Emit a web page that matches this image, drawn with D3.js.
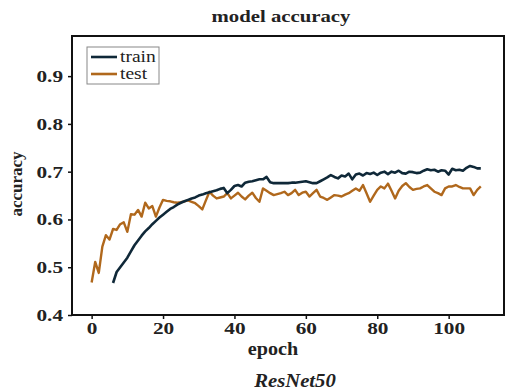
<!DOCTYPE html>
<html>
<head>
<meta charset="utf-8">
<script src="https://cdn.jsdelivr.net/npm/d3@7"></script>
<style>
  body { margin: 0; background: #fff; }
</style>
</head>
<body>
<div id="graphicContainer"></div>
<script>
var testStart = 0
var testAcc = [
  0.468, 0.511, 0.488, 0.543, 0.567, 0.558, 0.580, 0.578, 0.590, 0.594,
  0.574, 0.611, 0.610, 0.620, 0.606, 0.635, 0.623, 0.628, 0.606, 0.625,
  0.641, 0.639, 0.638, 0.636, 0.635, 0.636, 0.638, 0.640, 0.637, 0.634,
  0.628, 0.621, 0.640, 0.658, 0.650, 0.644, 0.646, 0.648, 0.655, 0.644,
  0.650, 0.656, 0.648, 0.642, 0.650, 0.656, 0.645, 0.637, 0.665, 0.660,
  0.655, 0.651, 0.653, 0.655, 0.658, 0.651, 0.655, 0.662, 0.651, 0.656,
  0.658, 0.648, 0.655, 0.662, 0.648, 0.645, 0.641, 0.646, 0.651, 0.650,
  0.648, 0.652, 0.655, 0.660, 0.665, 0.660, 0.672, 0.655, 0.637, 0.650,
  0.662, 0.669, 0.665, 0.675, 0.660, 0.644, 0.660, 0.670, 0.676, 0.668,
  0.662, 0.664, 0.665, 0.669, 0.672, 0.665, 0.658, 0.655, 0.651, 0.665,
  0.669, 0.669, 0.672, 0.668, 0.665, 0.665, 0.665, 0.651, 0.662, 0.669
]

var trainStart = 6
var trainAcc = [
  0.467, 0.490, 0.500, 0.510, 0.520, 0.533, 0.546, 0.556, 0.566, 0.575,
  0.582, 0.590, 0.597, 0.604, 0.610, 0.616, 0.622, 0.626, 0.631, 0.635,
  0.638, 0.641, 0.644, 0.646, 0.650, 0.652, 0.655, 0.657, 0.659, 0.661,
  0.664, 0.666, 0.655, 0.662, 0.670, 0.672, 0.669, 0.677, 0.679, 0.680,
  0.682, 0.684, 0.684, 0.689, 0.678, 0.676, 0.676, 0.676, 0.676, 0.676,
  0.677, 0.677, 0.678, 0.679, 0.680, 0.678, 0.676, 0.676, 0.680, 0.684,
  0.688, 0.693, 0.689, 0.686, 0.692, 0.690, 0.696, 0.684, 0.694, 0.696,
  0.692, 0.697, 0.695, 0.698, 0.693, 0.698, 0.700, 0.695, 0.700, 0.698,
  0.702, 0.697, 0.696, 0.700, 0.699, 0.697, 0.698, 0.702, 0.705, 0.703,
  0.704, 0.700, 0.703, 0.702, 0.694, 0.706, 0.703, 0.704, 0.702, 0.708,
  0.712, 0.710, 0.707, 0.707
]

var xTicks = [0, 20, 40, 60, 80, 100]
var yTicks = [0.4, 0.5, 0.6, 0.7, 0.8, 0.9]

var seriesNames = ["train", "test"]
var seriesColors = ["#0f2838", "#b0681c"]

var serif = '"Liberation Serif", "Times New Roman", "DejaVu Serif", serif'

var w = 506, h = 392
var margin = {top: 36, right: 2, bottom: 77, left: 72},
    width = w - margin.left - margin.right,
    height = h - margin.top - margin.bottom

var x = d3.scaleLinear().domain([-5.5, 115.5]).range([0, width])
var y = d3.scaleLinear().domain([0.4, 0.984]).range([height, 0])

var svg = d3.select("#graphicContainer").append("svg")
    .attr("width", w)
    .attr("height", h)

// the picture is a bit wider than tall, so the letters are stretched sideways
function stretch(sel, k) {
  sel.each(function() {
    var len = this.getComputedTextLength()
    d3.select(this)
      .attr("textLength", len * k)
      .attr("lengthAdjust", "spacingAndGlyphs")
  })
}

var g = svg.append("g")
    .attr("transform", "translate(" + margin.left + "," + margin.top + ")")

var valueline = d3.line()
    .x(function(d) { return x(d.epoch) })
    .y(function(d) { return y(d.acc) })

var train = trainAcc.map(function(v, i) { return {epoch: trainStart + i, acc: v} })
var test = testAcc.map(function(v, i) { return {epoch: testStart + i, acc: v} })

g.append("path")
  .datum(test)
  .attr("fill", "none")
  .attr("stroke", seriesColors[1])
  .attr("stroke-width", 2.4)
  .attr("stroke-linejoin", "round")
  .attr("d", valueline)

g.append("path")
  .datum(train)
  .attr("fill", "none")
  .attr("stroke", seriesColors[0])
  .attr("stroke-width", 2.6)
  .attr("stroke-linejoin", "round")
  .attr("d", valueline)

// axes
var xAxis = d3.axisBottom(x).tickValues(xTicks).tickSize(4).tickPadding(3)
var yAxis = d3.axisLeft(y).tickValues(yTicks).tickSize(4).tickPadding(5)
    .tickFormat(d3.format(".1f"))

var gx = g.append("g")
  .attr("transform", "translate(0," + height + ")")
  .call(xAxis)
var gy = g.append("g").call(yAxis)

;[gx, gy].forEach(function(a) {
  a.attr("font-family", null)
  a.select(".domain").remove()
  a.selectAll("line").attr("stroke", "#111").attr("stroke-width", 1.5)
  a.selectAll("text")
    .attr("fill", "#222")
    .style("font-family", serif)
    .style("font-size", "17px")
    .style("font-weight", "bold")
    .call(stretch, 1.25)
})

// frame
g.append("rect")
  .attr("width", width)
  .attr("height", height)
  .attr("fill", "none")
  .attr("stroke", "#111")
  .attr("stroke-width", 2)

// titles
svg.append("text")
  .attr("x", 281).attr("y", 22)
  .attr("text-anchor", "middle")
  .style("font-family", serif)
  .style("font-size", "17px").style("font-weight", "bold")
  .attr("fill", "#222")
  .text("model accuracy")
  .call(stretch, 1.22)

svg.append("text")
  .attr("x", 273).attr("y", 355)
  .attr("text-anchor", "middle")
  .style("font-family", serif)
  .style("font-size", "18px").style("font-weight", "bold")
  .attr("fill", "#222")
  .text("epoch")
  .call(stretch, 1.12)

svg.append("text")
  .attr("transform", "translate(22,184) rotate(-90)")
  .attr("text-anchor", "middle")
  .style("font-family", serif)
  .style("font-size", "17px").style("font-weight", "bold")
  .attr("fill", "#222")
  .text("accuracy")

svg.append("text")
  .attr("x", 295).attr("y", 387)
  .attr("text-anchor", "middle")
  .style("font-family", serif)
  .style("font-size", "18px").style("font-weight", "bold").style("font-style", "italic")
  .attr("fill", "#222")
  .text("ResNet50")
  .call(stretch, 1.15)

// legend
var lg = svg.append("g").attr("transform", "translate(87,47)")
lg.append("rect")
  .attr("width", 72).attr("height", 37)
  .attr("fill", "#fff")
  .attr("stroke", "#888")
  .attr("stroke-width", 1)
seriesNames.forEach(function(name, i) {
  var yy = 10 + i * 17
  lg.append("line")
    .attr("x1", 4).attr("x2", 30)
    .attr("y1", yy).attr("y2", yy)
    .attr("stroke", seriesColors[i])
    .attr("stroke-width", 2.6)
  lg.append("text")
    .attr("x", 33).attr("y", yy + 5)
    .style("font-family", serif)
    .style("font-size", "16px")
    .attr("fill", "#222")
    .text(name)
    .call(stretch, 1.22)
})
</script>
</body>
</html>
